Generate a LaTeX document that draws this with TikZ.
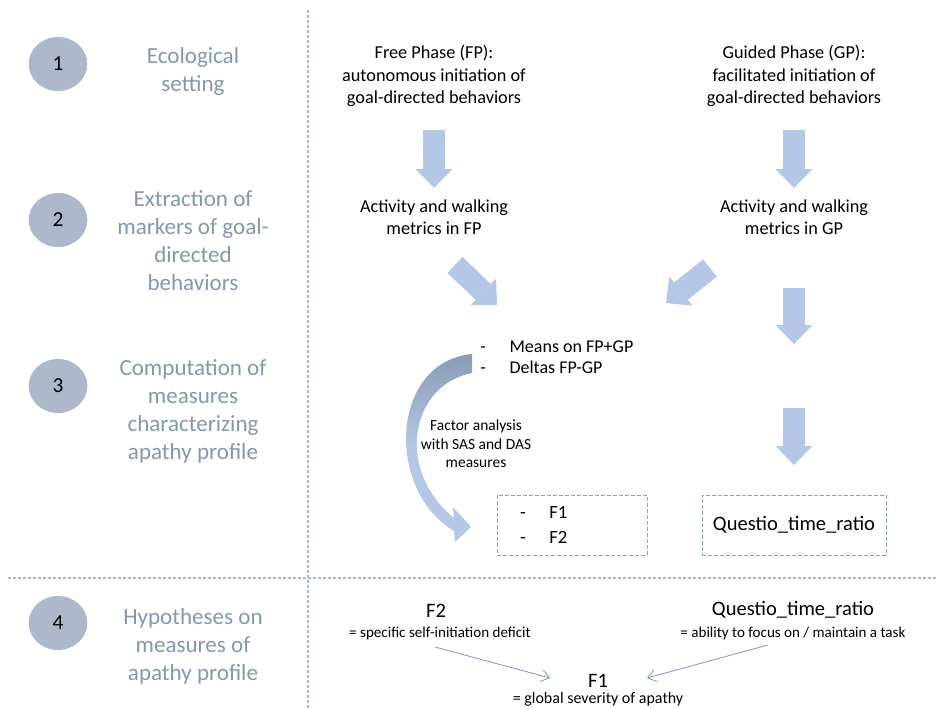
\documentclass[tikz,border=0pt]{standalone}
\usepackage{fontspec}
\setmainfont{Carlito}
\usetikzlibrary{arrows.meta, shapes.geometric}
\definecolor{steptext}{HTML}{8497B0}
\definecolor{stepfill}{HTML}{ADB9CA}
\definecolor{arrowblue}{HTML}{B4C7E7}
\definecolor{arcdark}{HTML}{8A9BB4}
\definecolor{sepline}{HTML}{A9B7CA}
\definecolor{boxline}{HTML}{8EA1BB}
\definecolor{hypline}{HTML}{8497B0}
\tikzset{
    stepnum/.style = {
        ellipse, fill=stepfill, minimum width=44pt, minimum height=40.5pt, inner sep=0pt,
        font=\fontsize{16}{18}\selectfont
    },
    steplabel/.style = {align=center, text=steptext, font=\fontsize{17.3}{21}\selectfont},
    phase/.style = {align=center, font=\fontsize{13.7}{16.9}\selectfont},
    fat/.style = {
        line width=16.5pt, draw=arrowblue,
        -{Triangle[width=27.75pt, length=14.25pt, line width=0pt]}
    },
    measbox/.style = {draw=boxline, line width=0.6pt, dash pattern=on 3pt off 1.5pt, minimum height=45pt},
    hypname/.style = {font=\fontsize{15.4}{18}\selectfont},
    hypdesc/.style = {font=\fontsize{11.3}{13}\selectfont},
    hyparrow/.style = {draw=hypline, line width=0.6pt, -{Straight Barb[length=6pt, width=9pt]}},
    separator/.style = {draw=sepline, line width=0.9pt, dash pattern=on 2.25pt off 1.5pt},
}
\newcommand{\dashitem}[1]{\makebox[22pt][l]{-}#1}

\begin{document}
\begin{tikzpicture}[x=0.75pt, y=-0.75pt]
        \useasboundingbox (0,0) rectangle (936,708);

        % Separators
        \draw[separator] (308,10) -- (308,708);
        \draw[separator] (8,578) -- (936,578);

        % Steps on the left
        \foreach \i/\cy/\ly/\txt in {
            1/64/71/{Ecological\\setting},
            2/220/241/{Extraction of\\markers of goal-\\directed\\behaviors},
            3/386/411/{Computation of\\measures\\characterizing\\apathy profile},
            4/623/646/{Hypotheses on\\measures of\\apathy profile}}{
            \node[stepnum] (n\i) at (58,\cy) {\i};
            \node[steplabel] (s\i) at (193,\ly) {\txt};
        }

        % Phases and metrics
        \node[phase] (fp) at (434,76) {Free Phase (FP):\\autonomous initiation of\\goal-directed behaviors};
        \node[phase] (gp) at (794,76) {Guided Phase (GP):\\facilitated initiation of\\goal-directed behaviors};
        \node[phase] (fpm) at (434,217) {Activity and walking\\metrics in FP};
        \node[phase] (gpm) at (794,217) {Activity and walking\\metrics in GP};

        % Measures
        \node[align=left, anchor=west, inner sep=0pt, font=\fontsize{13.5}{15.75}\selectfont] (means) at (480,357)
            {\dashitem{Means on FP+GP}\\\dashitem{Deltas FP-GP}};
        \node[align=center, font=\fontsize{11.6}{13.9}\selectfont] (fa) at (476,444)
            {Factor analysis\\with SAS and DAS\\measures};
        \node[measbox, minimum width=112.5pt, text width=78pt, inner xsep=17.25pt, align=left,
            font=\fontsize{14}{19}\selectfont] (fbox) at (572,525) {\dashitem{F1}\\\dashitem{F2}};
        \node[measbox, minimum width=138pt, font=\fontsize{15.4}{18}\selectfont] (q) at (794,525) {Questio\_time\_ratio};

        % Block arrows
        \draw[fat] ([shift={(0,54)}]fp.center) -- ++(0,58);
        \draw[fat] ([shift={(0,54)}]gp.center) -- ++(0,58);
        \draw[fat] ([shift={(21,48)}]fpm.center) -- ++(42,40);
        \draw[fat] ([shift={(-84,51)}]gpm.center) -- ++(-44,35);
        \draw[fat] ([shift={(0,71)}]gpm.center) -- ++(0,56);
        \draw[fat] ([shift={(0,-117)}]q.center) -- ++(0,57);

        % Curved arrow to the factors
        \shade[top color=arcdark, bottom color=arrowblue, middle color=arrowblue]
            (472,354) -- (472,373)
            .. controls (410,385) and (395,470) .. (454,518)
            -- (453,507) -- (471,527) -- (455,542) -- (454,531)
            .. controls (385,490) and (390,362) .. (472,354) -- cycle;

        % Hypotheses
        \node[hypname] (f2h) at (436,611) {F2};
        \node[hypdesc] (f2d) at (440,633) {= specific self-initiation deficit};
        \node[hypname] (qh) at (793,610) {Questio\_time\_ratio};
        \node[hypdesc] (qd) at (793,633) {= ability to focus on / maintain a task};
        \node[hypname] (f1h) at (598,681) {F1};
        \node[hypdesc, font=\fontsize{12}{14}\selectfont] (f1d) at (598,699) {= global severity of apathy};

        \draw[hyparrow] ([shift={(-5,14)}]f2d.center) -- ([shift={(-48,-3)}]f1h.center);
        \draw[hyparrow] ([shift={(-25,12)}]qd.center) -- ([shift={(49,-3)}]f1h.center);
\end{tikzpicture}
\end{document}
